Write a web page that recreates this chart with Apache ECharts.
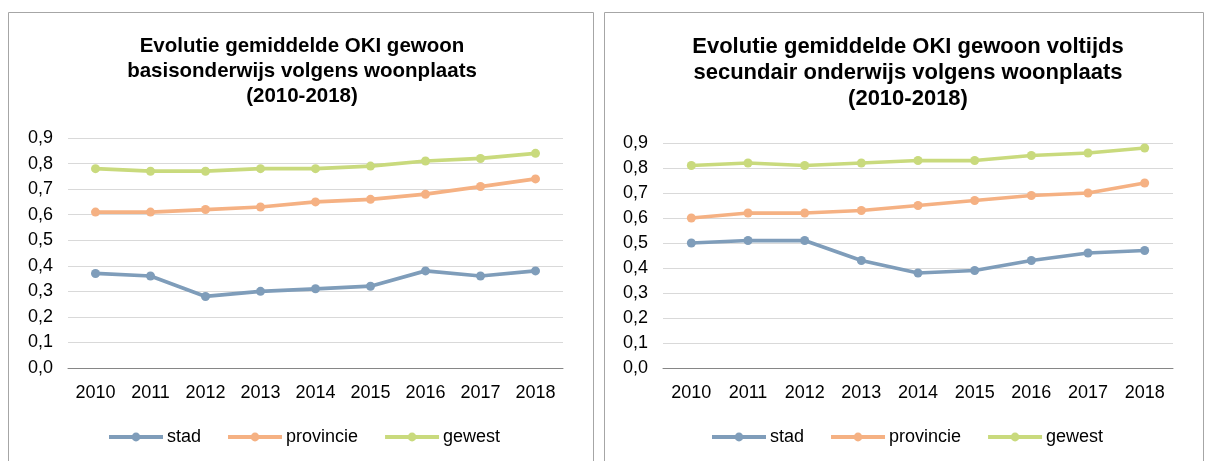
<!DOCTYPE html>
<html><head><meta charset="utf-8">
<script src="https://cdn.jsdelivr.net/npm/echarts@6/dist/echarts.min.js"></script>
<style>html,body{margin:0;padding:0;background:#fff}#c{width:1208px;height:461px}</style>
</head><body><div id="c"></div>
<script>
const years = ['2010','2011','2012','2013','2014','2015','2016','2017','2018'];
const yTicks = ['0,0','0,1','0,2','0,3','0,4','0,5','0,6','0,7','0,8','0,9'];
const titleBasis = 'Evolutie gemiddelde OKI gewoon\nbasisonderwijs volgens woonplaats\n(2010-2018)';
const titleSec = 'Evolutie gemiddelde OKI gewoon voltijds\nsecundair onderwijs volgens woonplaats\n(2010-2018)';
const seriesNames = ['stad','provincie','gewest'];
const basisStad = [0.37,0.36,0.28,0.30,0.31,0.32,0.38,0.36,0.38];
const basisProvincie = [0.61,0.61,0.62,0.63,0.65,0.66,0.68,0.71,0.74];
const basisGewest = [0.78,0.77,0.77,0.78,0.78,0.79,0.81,0.82,0.84];
const secStad = [0.50,0.51,0.51,0.43,0.38,0.39,0.43,0.46,0.47];
const secProvincie = [0.60,0.62,0.62,0.63,0.65,0.67,0.69,0.70,0.74];
const secGewest = [0.81,0.82,0.81,0.82,0.83,0.83,0.85,0.86,0.88];

const colors = {stad:'#7F9DBA', provincie:'#F5B183', gewest:'#C9DA7D'};
const font = '"Liberation Sans", Arial, sans-serif';

function xAxis(gi){return {type:'category',gridIndex:gi,data:years,boundaryGap:true,
  axisLine:{lineStyle:{color:'#868686',width:1}},axisTick:{show:false},
  axisLabel:{color:'#000',fontSize:18,fontFamily:font,margin:16}};}
function yAxis(gi){return {type:'value',gridIndex:gi,min:0,max:0.9,interval:0.1,
  axisLine:{show:false},axisTick:{show:false},
  splitLine:{lineStyle:{color:'#D9D9D9',width:1}},
  axisLabel:{color:'#000',fontSize:18,fontFamily:font,margin:15,
    formatter:(v)=>yTicks[Math.round(v*10)]}};}
function line(name,data,gi){return {name:name,type:'line',xAxisIndex:gi,yAxisIndex:gi,data:data,
  symbol:'circle',symbolSize:9,color:colors[name],
  lineStyle:{width:3.75,color:colors[name]},itemStyle:{color:colors[name]},animation:false};}
function legend(left){return {left:left,top:428,padding:0,itemWidth:54,itemHeight:11,itemGap:25,
  data:seriesNames,lineStyle:{width:4},
  textStyle:{fontFamily:font,fontSize:18,color:'#000',padding:[0,0,0,-1]}};}

const chart = echarts.init(document.getElementById('c'),null,{renderer:'canvas'});
chart.setOption({
  animation:false,
  graphic:[
    {type:'rect',shape:{x:8.5,y:12.5,width:585,height:470},style:{fill:'none',stroke:'#A6A6A6',lineWidth:1}},
    {type:'rect',shape:{x:604.5,y:12.5,width:599,height:470},style:{fill:'none',stroke:'#A6A6A6',lineWidth:1}}
  ],
  title:[
    {text:titleBasis,left:302,top:34,padding:0,textAlign:'center',
     textStyle:{fontFamily:font,fontSize:20.5,fontWeight:'bold',color:'#000',lineHeight:25}},
    {text:titleSec,left:908,top:34,padding:0,textAlign:'center',
     textStyle:{fontFamily:font,fontSize:22,fontWeight:'bold',color:'#000',lineHeight:26}}
  ],
  legend:[legend(107),legend(710)],
  grid:[
    {left:68,top:138,width:495,height:230},
    {left:663,top:143,width:510,height:225}
  ],
  xAxis:[xAxis(0),xAxis(1)],
  yAxis:[yAxis(0),yAxis(1)],
  series:[
    line('stad',basisStad,0),line('provincie',basisProvincie,0),line('gewest',basisGewest,0),
    line('stad',secStad,1),line('provincie',secProvincie,1),line('gewest',secGewest,1)
  ]
});
</script></body></html>
